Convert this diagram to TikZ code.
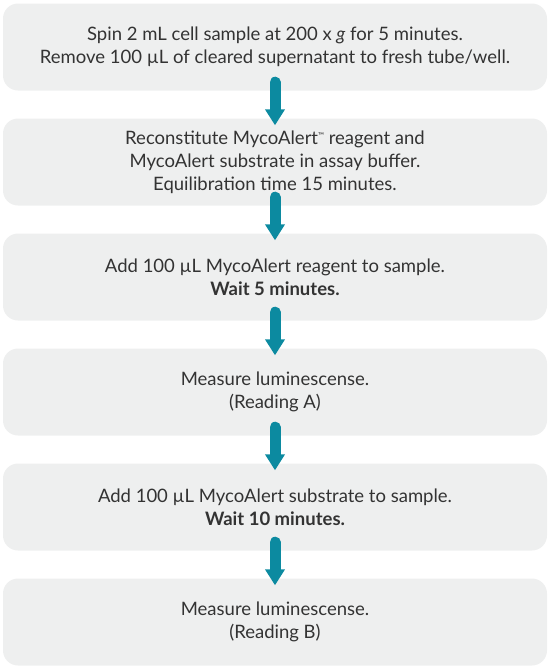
\documentclass[tikz,border=0pt]{standalone}
\usepackage{fontspec}
\setmainfont{Lato}
\usetikzlibrary{arrows.meta,calc}
\definecolor{boxgray}{RGB}{238,239,239}
\definecolor{teal}{RGB}{12,138,160}
\definecolor{txt}{RGB}{51,51,51}
\newcommand{\tmark}{{\fontsize{8}{8}\selectfont\raisebox{6pt}{™}}}
\tikzset{
  stepbox/.style={rectangle, rounded corners=15pt, fill=boxgray, draw=none,
    minimum width=544pt, minimum height=87pt, align=center, text=txt,
    font=\fontsize{18.5}{23}\selectfont, inner sep=0pt},
  flowarrow/.style={draw=teal, line width=11pt, line cap=round,
    -{Triangle[width=19pt,length=16pt,fill=teal]}}
}
\begin{document}
\begin{tikzpicture}[x=1pt,y=1pt]
\useasboundingbox (0,0) rectangle (550,-670);
\node[stepbox] (b1) at (275,-47) {Spin 2 mL cell sample at 200 x \textit{g} for 5 minutes.\\Remove 100 µL of cleared supernatant to fresh tube/well.};
\node[stepbox] (b2) at (275,-162) {Reconstitute MycoAlert\tmark{} reagent and\\MycoAlert substrate in assay buffer.\\Equilibration time 15 minutes.};
\node[stepbox] (b3) at (275,-277) {Add 100 µL MycoAlert reagent to sample.\\\textbf{Wait 5 minutes.}};
\node[stepbox] (b4) at (275,-392) {Measure luminescense.\\(Reading A)};
\node[stepbox] (b5) at (275,-507) {Add 100 µL MycoAlert substrate to sample.\\\textbf{Wait 10 minutes.}};
\node[stepbox] (b6) at (275,-622) {Measure luminescense.\\(Reading B)};
\foreach \a/\b in {b1/b2,b2/b3,b3/b4,b4/b5,b5/b6}{
  \draw[flowarrow] ($(\a.south)+(0,8.5)$) -- ($(\b.north)+(0,-7)$);
}
\end{tikzpicture}
\end{document}
